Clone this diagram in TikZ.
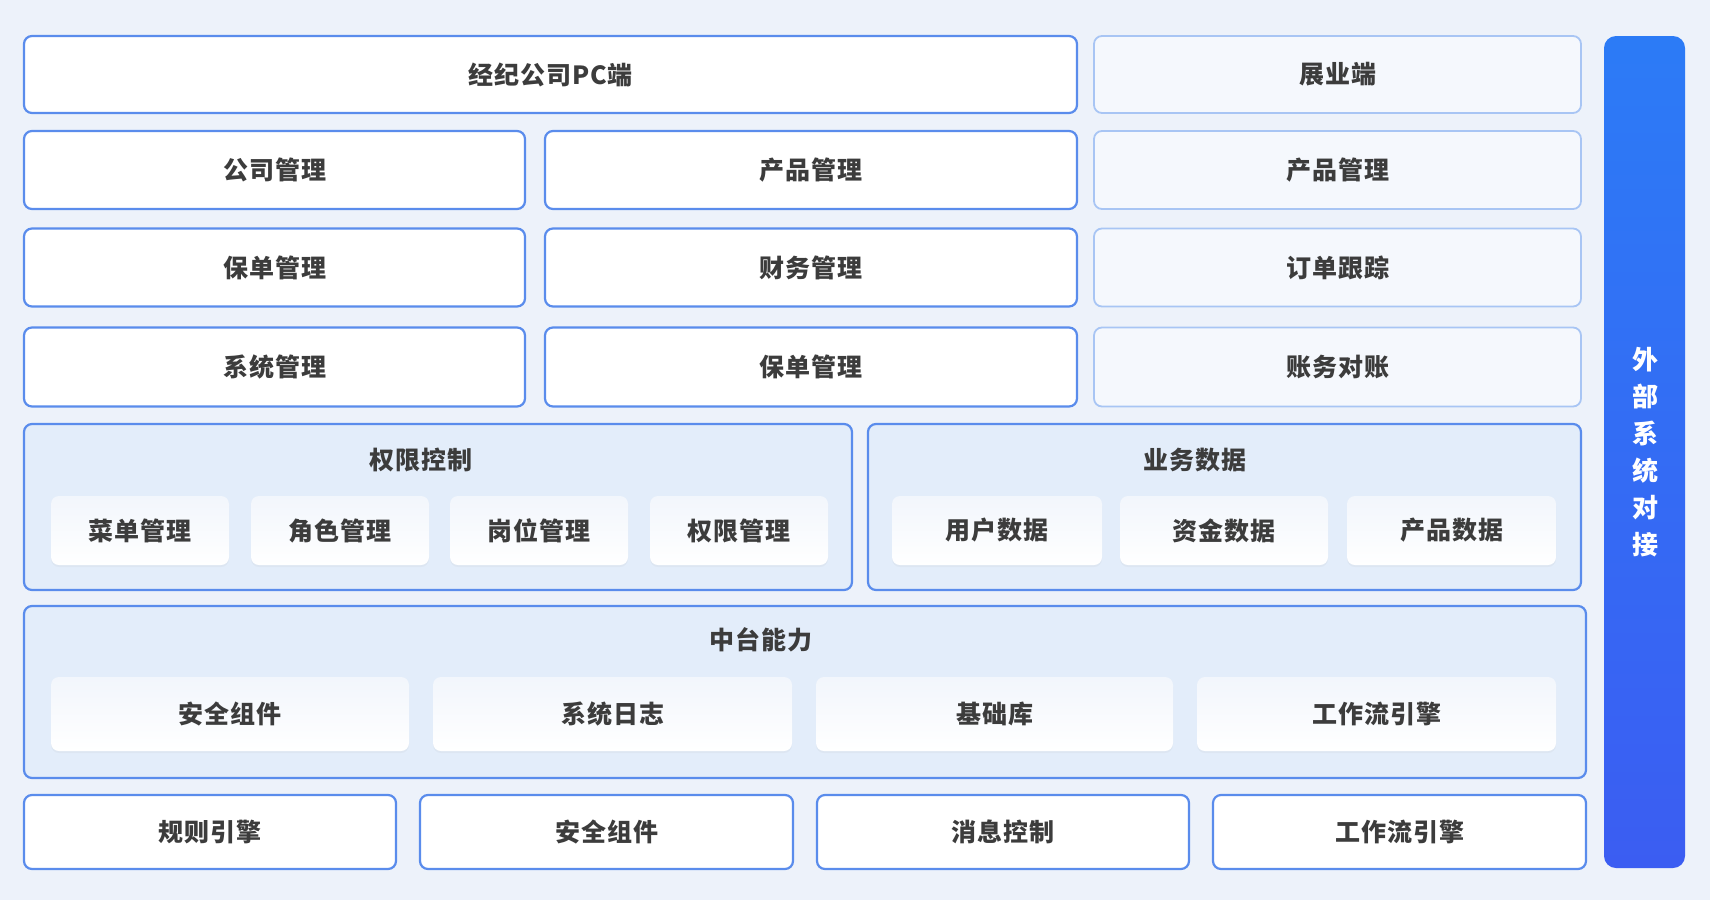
\documentclass[tikz,border=0pt]{standalone}
\usepackage{fontspec}
\newfontfamily\cjk{Noto Sans CJK SC}[LetterSpace=4]
\newfontfamily\cjkbar{Noto Sans CJK SC}
\usetikzlibrary{shadows}
\definecolor{bg}{HTML}{EDF2FA}
\definecolor{bordL}{HTML}{5A8CEC}
\definecolor{bordR}{HTML}{A8C5F4}
\definecolor{rfill}{HTML}{F5F8FD}
\definecolor{gfill}{HTML}{E3EDFA}
\definecolor{ifillT}{HTML}{F2F6FC}
\definecolor{txt}{HTML}{3C3C3C}
\definecolor{barT}{HTML}{2C7BF6}
\definecolor{barB}{HTML}{3B5DF2}
\begin{document}
\begin{tikzpicture}[x=1pt,y=-1pt,
  base/.style={rounded corners=8pt, inner sep=0pt, text=txt,
    font=\cjk\bfseries\fontsize{25}{25}\selectfont},
  lbox/.style={base, draw=bordL, line width=2.2pt, fill=white},
  rbox/.style={base, draw=bordR, line width=1.8pt, fill=rfill},
  grp/.style={rounded corners=8pt, inner sep=0pt, draw=bordL, line width=2.2pt, fill=gfill},
  ibox/.style={base, top color=ifillT, bottom color=white, draw=none,
    drop shadow={opacity=0.06, shadow xshift=0pt, shadow yshift=-2pt}},
  gtitle/.style={inner sep=0pt, text=txt, font=\cjk\bfseries\fontsize{25}{25}\selectfont},
  bar/.style={rounded corners=12pt, inner sep=0pt, top color=barT, bottom color=barB, draw=none},
  bartext/.style={inner sep=0pt, text=white, align=center,
    font=\cjkbar\bfseries\fontsize{26}{37}\selectfont}
]
\useasboundingbox (0,0) rectangle (1710,900);
\fill[bg] (0,0) rectangle (1710,900);

% row 1
\node[lbox, minimum width=1053pt, minimum height=77pt] (pc) at (550.5,74.5) {经纪公司PC端};
\node[rbox, minimum width=487pt, minimum height=77pt] (zy) at (1337.5,74.5) {展业端};
% row 2
\node[lbox, minimum width=501pt, minimum height=78pt] (gs) at (274.5,170) {公司管理};
\node[lbox, minimum width=532pt, minimum height=78pt] (cp) at (811,170) {产品管理};
\node[rbox, minimum width=487pt, minimum height=78pt] (cp2) at (1337.5,170) {产品管理};
% row 3
\node[lbox, minimum width=501pt, minimum height=78pt] (bd) at (274.5,267.5) {保单管理};
\node[lbox, minimum width=532pt, minimum height=78pt] (cw) at (811,267.5) {财务管理};
\node[rbox, minimum width=487pt, minimum height=78pt] (dd) at (1337.5,267.5) {订单跟踪};
% row 4
\node[lbox, minimum width=501pt, minimum height=79pt] (xt) at (274.5,367) {系统管理};
\node[lbox, minimum width=532pt, minimum height=79pt] (bd2) at (811,367) {保单管理};
\node[rbox, minimum width=487pt, minimum height=79pt] (zw) at (1337.5,367) {账务对账};

% group 1
\node[grp, minimum width=828pt, minimum height=166pt] (g1) at (438,507) {};
\node[gtitle] (g1t) at (421,460) {权限控制};
\node[ibox, minimum width=178pt, minimum height=69pt] (i11) at (140,530.5) {菜单管理};
\node[ibox, minimum width=178pt, minimum height=69pt] (i12) at (340,530.5) {角色管理};
\node[ibox, minimum width=178pt, minimum height=69pt] (i13) at (539,530.5) {岗位管理};
\node[ibox, minimum width=178pt, minimum height=69pt] (i14) at (739,530.5) {权限管理};

% group 2
\node[grp, minimum width=713pt, minimum height=166pt] (g2) at (1224.5,507) {};
\node[gtitle] (g2t) at (1195,460) {业务数据};
\node[ibox, minimum width=210pt, minimum height=69pt] (i21) at (997,530.5) {用户数据};
\node[ibox, minimum width=208pt, minimum height=69pt] (i22) at (1224,530.5) {资金数据};
\node[ibox, minimum width=209pt, minimum height=69pt] (i23) at (1451.5,530.5) {产品数据};

% group 3
\node[grp, minimum width=1562pt, minimum height=172pt] (g3) at (805,692) {};
\node[gtitle] (g3t) at (761,640) {中台能力};
\node[ibox, minimum width=358pt, minimum height=74pt] (i31) at (230,714) {安全组件};
\node[ibox, minimum width=359pt, minimum height=74pt] (i32) at (612.5,714) {系统日志};
\node[ibox, minimum width=357pt, minimum height=74pt] (i33) at (994.5,714) {基础库};
\node[ibox, minimum width=359pt, minimum height=74pt] (i34) at (1376.5,714) {工作流引擎};

% bottom row
\node[lbox, minimum width=372pt, minimum height=74pt] (b1) at (210,832) {规则引擎};
\node[lbox, minimum width=373pt, minimum height=74pt] (b2) at (606.5,832) {安全组件};
\node[lbox, minimum width=372pt, minimum height=74pt] (b3) at (1003,832) {消息控制};
\node[lbox, minimum width=373pt, minimum height=74pt] (b4) at (1399.5,832) {工作流引擎};

% right bar
\node[bar, minimum width=81pt, minimum height=832pt] (ext) at (1644.5,452) {};
\node[bartext] (extt) at (1645,452) {外\\部\\系\\统\\对\\接};
\end{tikzpicture}
\end{document}
